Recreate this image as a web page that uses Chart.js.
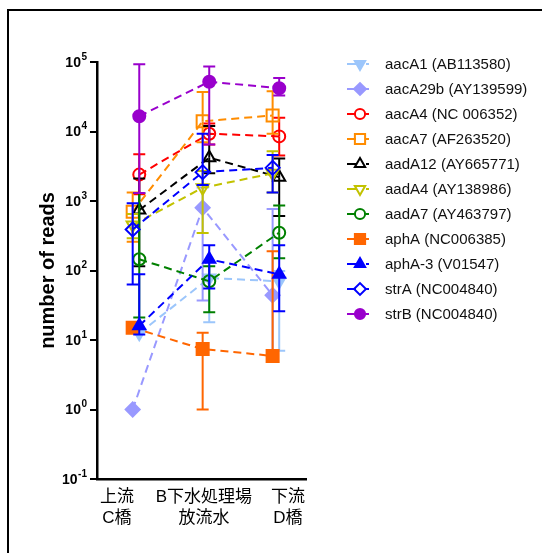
<!DOCTYPE html>
<html>
<head>
<meta charset="utf-8">
<style>
html, body { margin: 0; padding: 0; background: #fff; }
#wrap { position: relative; width: 542px; height: 553px; overflow: hidden; }
#frame { position: absolute; left: 7px; top: 9px; width: 700px; height: 700px; border-left: 2px solid #000; border-top: 2px solid #000; }
#myChart { position: absolute; left: 0; top: 0; }
</style>
</head>
<body>
<div id="wrap">
<div id="frame"></div>
<canvas id="myChart" width="542" height="553"></canvas>
</div>
<script src="https://cdn.jsdelivr.net/npm/chart.js@4"></script>
<script>
// sampling sites (x categories)
const sites = [['上流', 'C橋'], ['B下水処理場', '放流水'], ['下流', 'D橋']];
const decades = [0.1, 1, 10, 100, 1000, 10000, 100000];

// mean reads, lower / upper end of the error bar (null = no bar)
const aacA1 = [12.5, 78, 70];
const aacA1Lo = [null, 18, 7];
const aacA1Hi = [null, 138, 98];
const aacA29b = [1, 800, 44];
const aacA29bLo = [null, 37, 6];
const aacA29bHi = [null, 1560, 770];
const aacA4 = [2400, 9300, 8500];
const aacA4Lo = [1250, 6500, 4500];
const aacA4Hi = [4700, 13000, 15800];
const aacA7 = [700, 14000, 17000];
const aacA7Lo = [260, 7000, 9300];
const aacA7Hi = [1330, 37000, 38000];
const aadA12 = [740, 4200, 2200];
const aadA12Lo = [115, 2500, 610];
const aadA12Hi = [2100, 12000, 4100];
const aadA4 = [450, 1550, 2500];
const aadA4Lo = [290, 345, 1330];
const aadA4Hi = [650, 2700, 5200];
const aadA7 = [145, 70, 350];
const aadA7Lo = [21, 25, 150];
const aadA7Hi = [1300, 115, 860];
const aphA = [15, 7.4, 5.9];
const aphALo = [null, 1, null];
const aphAHi = [null, 12.7, 190];
const aphA3 = [16, 145, 88];
const aphA3Lo = [12, 55, 26];
const aphA3Hi = [88, 230, 230];
const strA = [390, 2600, 3000];
const strALo = [63, 1700, 1330];
const strAHi = [930, 9300, 4600];
const strB = [16600, 52000, 42000];
const strBLo = [1300, 6500, 33000];
const strBHi = [93000, 86000, 59000];

// series: label, values, err low, err high, color, marker, rotation, filled, side shift
const series = [
  ['aacA1 (AB113580)', aacA1, aacA1Lo, aacA1Hi, '#9cc6fb', 'triangle', 180, true, 1],
  ['aacA29b (AY139599)', aacA29b, aacA29bLo, aacA29bHi, '#9999ff', 'rectRot', 0, true, -1],
  ['aacA4 (NC 006352)', aacA4, aacA4Lo, aacA4Hi, '#ff0000', 'circle', 0, false, 1],
  ['aacA7 (AF263520)', aacA7, aacA7Lo, aacA7Hi, '#ff8c00', 'rect', 0, false, -1],
  ['aadA12 (AY665771)', aadA12, aadA12Lo, aadA12Hi, '#000000', 'triangle', 0, false, 1],
  ['aadA4 (AY138986)', aadA4, aadA4Lo, aadA4Hi, '#c2c200', 'triangle', 180, false, -1],
  ['aadA7 (AY463797)', aadA7, aadA7Lo, aadA7Hi, '#008000', 'circle', 0, false, 1],
  ['aphA (NC006385)', aphA, aphALo, aphAHi, '#ff6600', 'rect', 0, true, -1],
  ['aphA-3 (V01547)', aphA3, aphA3Lo, aphA3Hi, '#0000ff', 'triangle', 0, true, 1],
  ['strA (NC004840)', strA, strALo, strAHi, '#0000ff', 'rectRot', 0, false, -1],
  ['strB (NC004840)', strB, strBLo, strBHi, '#9900cc', 'circle', 0, true, 1]
];

const markerSize = { circle: 6, rect: 8.5, rectRot: 7, triangle: 7 };

const datasets = series.map((s, i) => ({
  label: s[0],
  data: s[1].map((v, j) => ({ x: j + s[8] * 0.047, y: v })),
  errLow: s[2],
  errHigh: s[3],
  borderColor: s[4],
  backgroundColor: s[7] ? s[4] : 'rgba(0,0,0,0)',
  pointBackgroundColor: s[7] ? s[4] : 'rgba(0,0,0,0)',
  pointBorderColor: s[4],
  pointStyle: s[5],
  pointRotation: s[6],
  pointRadius: markerSize[s[5]],
  pointBorderWidth: 2,
  borderWidth: 2,
  borderDash: [8, 5],
  fill: false,
  tension: 0,
  clip: false,
  order: series.length - i
}));

const errorBars = {
  id: 'errorBars',
  beforeDatasetDraw(chart, args) {
    const ds = chart.data.datasets[args.index];
    const yScale = chart.scales.y;
    const ctx = chart.ctx;
    ctx.save();
    ctx.strokeStyle = ds.borderColor;
    ctx.lineWidth = 2;
    ctx.setLineDash([]);
    args.meta.data.forEach((pt, i) => {
      [ds.errLow[i], ds.errHigh[i]].forEach(v => {
        if (v == null) return;
        const ey = yScale.getPixelForValue(v);
        ctx.beginPath();
        ctx.moveTo(pt.x, pt.y);
        ctx.lineTo(pt.x, ey);
        ctx.moveTo(pt.x - 6, ey);
        ctx.lineTo(pt.x + 6, ey);
        ctx.stroke();
      });
    });
    ctx.restore();
  }
};

const decorations = {
  id: 'decorations',
  afterDraw(chart) {
    const ctx = chart.ctx;
    const y = chart.scales.y;
    const x = chart.scales.x;
    ctx.save();
    ctx.fillStyle = '#000';
    // y tick labels 10^n
    decades.forEach(v => {
      const py = y.getPixelForValue(v);
      const exp = String(Math.round(Math.log10(v)));
      ctx.font = 'bold 10px "Liberation Sans", Arial, sans-serif';
      ctx.textAlign = 'right';
      ctx.textBaseline = 'middle';
      ctx.fillText(exp, 87, py - 5);
      const w = ctx.measureText(exp).width;
      ctx.font = 'bold 14px "Liberation Sans", Arial, sans-serif';
      ctx.fillText('10', 87 - w - 0.5, py + 1);
    });
    // y title
    ctx.save();
    ctx.translate(48, (chart.chartArea.top + chart.chartArea.bottom) / 2);
    ctx.rotate(-Math.PI / 2);
    ctx.font = 'bold 20px "Liberation Sans", Arial, sans-serif';
    ctx.textAlign = 'center';
    ctx.textBaseline = 'middle';
    ctx.fillText('number of reads', 0, 0);
    ctx.restore();
    // x category labels
    const labelShift = [-19, -2, 12];
    ctx.font = '17px "Liberation Sans", "Noto Sans CJK JP", sans-serif';
    ctx.textAlign = 'center';
    ctx.textBaseline = 'middle';
    sites.forEach((lines, i) => {
      const px = x.getPixelForValue(i) + labelShift[i];
      lines.forEach((t, k) => ctx.fillText(t, px, 497 + k * 21));
    });
    // legend
    chart.data.datasets.forEach((ds, i) => {
      const ly = 64 + i * 25;
      ctx.strokeStyle = ds.borderColor;
      ctx.lineWidth = 2;
      ctx.setLineDash([]);
      ctx.beginPath();
      ctx.moveTo(347, ly);
      ctx.lineTo(356, ly);
      ctx.moveTo(366, ly);
      ctx.lineTo(369, ly);
      ctx.stroke();
      ctx.fillStyle = ds.pointBackgroundColor;
      Chart.helpers.drawPoint(ctx, {
        pointStyle: ds.pointStyle,
        rotation: ds.pointRotation,
        radius: ds.pointRadius * 0.85,
        borderWidth: 2
      }, 360, ly);
      ctx.fillStyle = '#111';
      ctx.font = '15px "Liberation Sans", Arial, sans-serif';
      ctx.textAlign = 'left';
      ctx.textBaseline = 'middle';
      ctx.fillText(ds.label, 385, ly + 1);
    });
    ctx.restore();
  }
};

new Chart(document.getElementById('myChart'), {
  type: 'line',
  data: { datasets: datasets },
  plugins: [errorBars, decorations],
  options: {
    responsive: false,
    animation: false,
    devicePixelRatio: 1,
    layout: { padding: { left: 90, top: 62, right: 236, bottom: 74 } },
    plugins: { legend: { display: false }, tooltip: { enabled: false } },
    scales: {
      x: {
        type: 'linear',
        min: -0.557,
        max: 2.43,
        grid: { display: false, drawTicks: false },
        ticks: { display: false },
        border: { display: true, color: '#000', width: 2.5 }
      },
      y: {
        type: 'logarithmic',
        min: 0.1,
        max: 100000,
        afterBuildTicks: scale => { scale.ticks = decades.map(v => ({ value: v })); },
        grid: { display: true, drawOnChartArea: false, drawTicks: true, tickLength: 7, color: '#000', lineWidth: 2 },
        ticks: { display: false },
        border: { display: true, color: '#000', width: 2.5 }
      }
    }
  }
});
</script>
</body>
</html>
